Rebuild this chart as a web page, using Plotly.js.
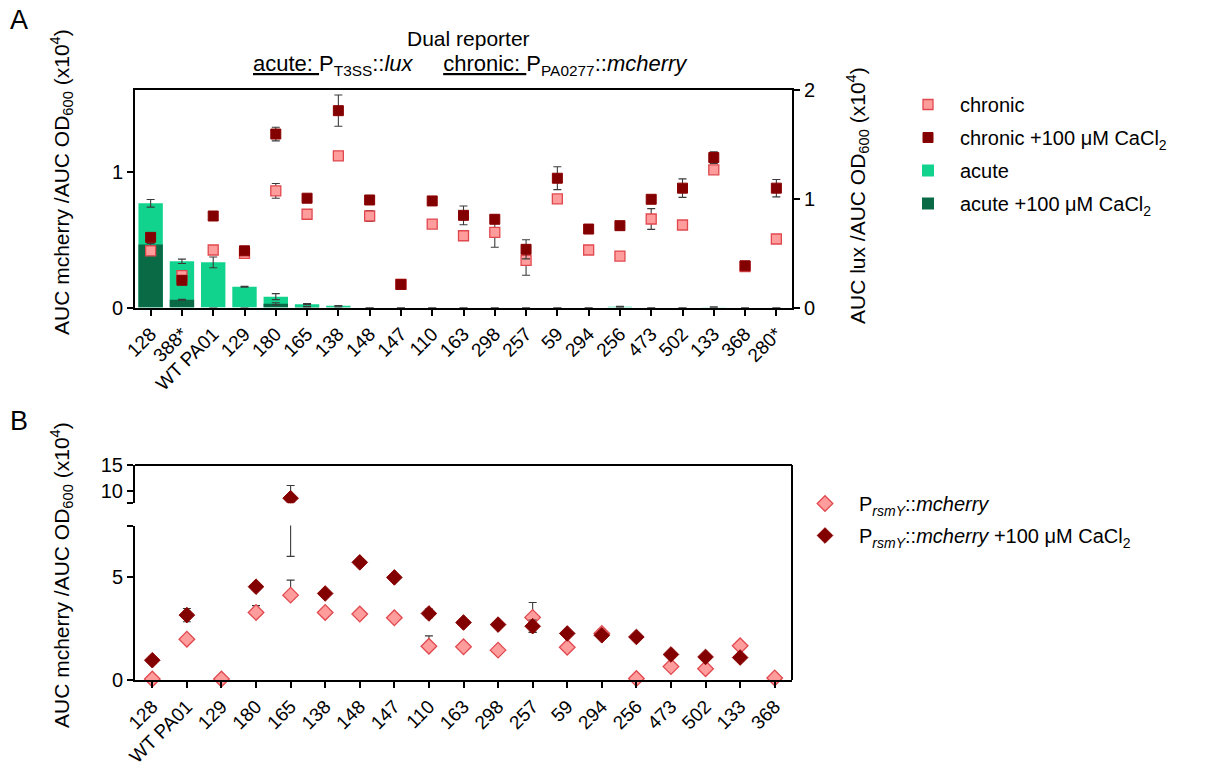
<!DOCTYPE html>
<html><head><meta charset="utf-8">
<script src="https://cdn.plot.ly/plotly-3.0.1.min.js"></script>
<style>html,body{margin:0;padding:0;background:#fff}#chart{width:1210px;height:774px}</style>
</head><body><div id="chart"></div>
<script>
// ---------- Panel A data ----------
const topCategories = ['128','388*','WT PA01','129','180','165','138','148','147','110','163','298','257','59','294','256','473','502','133','368','280*'];
const chronic      = [0.417,0.235,0.423,0.398,0.858,0.686,1.116,0.673,0.170,0.614,0.528,0.553,0.347,0.799,0.423,0.378,0.651,0.607,1.013,0.300,0.504];
const chronicErr   = [0.030,0.020,0.030,0.020,0.054,0.020,0.030,0.040,0.000,0.020,0.020,0.110,0.110,0.030,0.020,0.020,0.076,0.020,0.020,0.020,0.020];
const chronicCa    = [0.516,0.200,0.673,0.417,1.276,0.804,1.448,0.791,0.170,0.784,0.678,0.649,0.428,0.951,0.577,0.602,0.796,0.878,1.103,0.307,0.878];
const chronicCaErr = [0.020,0.030,0.030,0.020,0.050,0.020,0.115,0.020,0.010,0.020,0.069,0.020,0.070,0.084,0.020,0.020,0.020,0.068,0.043,0.020,0.064];
const acute        = [0.958,0.425,0.415,0.190,0.100,0.031,0.016,0,0,0,0,0,0,0,0,0.008,0,0,0.003,0,0];
const acuteErr     = [0.035,0.020,0.050,0.004,0.028,0.005,0.003,0,0,0,0,0,0,0,0,0.003,0,0,0.004,0,0];
const acuteCa      = [0.579,0.071,0.000,0.000,0.034,0.005,0.002,0,0,0,0,0,0,0,0,0,0,0,0,0,0];
const acuteCaErr   = [0.010,0.005,0,0,0.010,0.003,0,0,0,0,0,0,0,0,0,0,0,0,0,0,0];

// ---------- Panel B data ----------
const bottomCategories = ['128','WT PA01','129','180','165','138','148','147','110','163','298','257','59','294','256','473','502','133','368'];
const rsmY         = [0.05,1.98,0.05,3.28,4.12,3.28,3.20,3.02,1.64,1.61,1.45,3.04,1.59,2.26,0.07,0.65,0.55,1.66,0.10];
const rsmYErr      = [0.05,0.10,0.05,0.33,0.73,0.10,0.05,0.10,0.50,0.08,0.05,0.72,0.05,0.20,0.03,0.10,0.15,0.15,0.05];
const rsmYErrMinus = [0.05,0.10,0.05,0.00,0.00,0.10,0.05,0.10,0.00,0.08,0.05,0.72,0.05,0.20,0.03,0.10,0.15,0.15,0.05];
const rsmYCa       = [0.96,3.15,null,4.53,8.50,4.20,5.71,4.98,3.23,2.79,2.69,2.61,2.26,2.17,2.09,1.24,1.12,1.09,null];
const rsmYCaErr    = [0.05,0.32,null,0.12,2.50,0.12,0.15,0.12,0.21,0.08,0.12,0.30,0.05,0.05,0.05,0.10,0.15,0.15,null];
const axisBreak = 7.5;
const lowerTicks = [0,5,7.5], lowerTickText = ['0','5',''];
const upperTicks = [7.5,10,15], upperTickText = ['','10','15'];

const rsmYCaLow  = rsmYCa.map(v => (v !== null && v <= axisBreak) ? v : null);
const rsmYCaHigh = rsmYCa.map(v => (v !== null && v > axisBreak) ? v : null);

// ---------- styling ----------
const W = 1210, H = 774;
const px = x => x / W, py = y => 1 - y / H;
const FONT = 'Liberation Sans, Arial, sans-serif';
const pinkFill = '#FF9C9C', pinkLine = '#E0484E';
const darkRed = '#820000', darkRedLine = '#8B0000';
const lightGreen = '#12D38D', darkGreen = '#0A6A46';
const errStyle = (arr, minus) => {
  const e = {type:'data', array: arr, visible:true, color:'#3a3a3a', thickness:1.1, width:4};
  if (minus) { e.symmetric = false; e.arrayminus = minus; }
  return e;
};

const xDom = [px(135), px(792)];
const topDom = [py(307.5), py(90)];
const lowDom = [py(680), py(525.5)];
const upDom = [py(503.3), py(465)];

const data = [
  {type:'scatter', mode:'markers', name:'chronic', x:topCategories, y:chronic, xaxis:'x', yaxis:'y2',
   marker:{symbol:'square', size:10, color:pinkFill, line:{color:pinkLine, width:1.3}},
   error_y: errStyle(chronicErr), legend:'legend', legendgroup:'a1'},
  {type:'scatter', mode:'markers', name:'chronic +100 μM CaCl<sub>2</sub>', x:topCategories, y:chronicCa, xaxis:'x', yaxis:'y2',
   marker:{symbol:'square', size:10, color:darkRed, line:{color:darkRedLine, width:1}},
   error_y: errStyle(chronicCaErr), legend:'legend', legendgroup:'a2'},
  {type:'bar', name:'acute', x:topCategories, y:acute, xaxis:'x', yaxis:'y', width:0.78,
   marker:{color:lightGreen, line:{width:0}}, error_y: errStyle(acuteErr), legend:'legend', legendgroup:'a3'},
  {type:'bar', name:'acute +100 μM CaCl<sub>2</sub>', x:topCategories, y:acuteCa, xaxis:'x', yaxis:'y', width:0.78,
   marker:{color:darkGreen, line:{width:0}}, error_y: errStyle(acuteCaErr), legend:'legend', legendgroup:'a4'},

  {type:'scatter', mode:'markers', name:'P<sub><i>rsmY</i></sub>::<i>mcherry</i>', x:bottomCategories, y:rsmY, xaxis:'x2', yaxis:'y3',
   cliponaxis:false, marker:{symbol:'diamond', size:12, color:pinkFill, line:{color:pinkLine, width:1.3}},
   error_y: errStyle(rsmYErr, rsmYErrMinus), legend:'legend2', legendgroup:'b1'},
  {type:'scatter', mode:'markers', name:'P<sub><i>rsmY</i></sub>::<i>mcherry</i> +100 μM CaCl<sub>2</sub>', x:bottomCategories, y:rsmYCaLow, xaxis:'x2', yaxis:'y3',
   cliponaxis:false, marker:{symbol:'diamond', size:12, color:darkRed, line:{color:darkRedLine, width:1}},
   error_y: errStyle(rsmYCaErr), legend:'legend2', legendgroup:'b2'},
  {type:'scatter', mode:'markers', showlegend:false, hoverinfo:'skip', x:bottomCategories, y:rsmYCaHigh, xaxis:'x2', yaxis:'y5',
   cliponaxis:true, marker:{symbol:'diamond', size:12, color:'rgba(0,0,0,0)', line:{width:0}},
   error_y: errStyle(rsmYCaErr)},
  {type:'scatter', mode:'markers', showlegend:false, x:bottomCategories, y:rsmYCaHigh, xaxis:'x2', yaxis:'y4',
   cliponaxis:true, marker:{symbol:'diamond', size:12, color:darkRed, line:{color:darkRedLine, width:1}},
   error_y: errStyle(rsmYCaErr)}
];

const axLine = {showline:true, linecolor:'#000', linewidth:2, ticks:'outside', ticklen:6, tickwidth:2, tickcolor:'#000',
  showgrid:false, zeroline:false, tickfont:{size:20, color:'#000', family:FONT}};

const layout = {
  width:W, height:H, margin:{l:0, r:0, t:0, b:0},
  paper_bgcolor:'#fff', plot_bgcolor:'rgba(0,0,0,0)',
  font:{family:FONT, color:'#000'},
  barmode:'overlay', showlegend:true,
  xaxis: Object.assign({}, axLine, {domain:xDom, anchor:'y', type:'category', categoryorder:'array', categoryarray:topCategories,
    range:[-0.5, 20.5], tickangle:-45, mirror:true, tickfont:{size:19, color:'#000', family:FONT}}),
  yaxis: Object.assign({}, axLine, {domain:topDom, anchor:'x', side:'right', range:[0,2], tickvals:[0,1,2]}),
  yaxis2: Object.assign({}, axLine, {overlaying:'y', anchor:'x', side:'left', range:[0,1.6], tickvals:[0,1]}),
  xaxis2: Object.assign({}, axLine, {domain:xDom, anchor:'y3', type:'category', categoryorder:'array', categoryarray:bottomCategories,
    range:[-0.5, 18.5], tickangle:-45, tickfont:{size:19, color:'#000', family:FONT}}),
  yaxis3: Object.assign({}, axLine, {domain:lowDom, anchor:'x2', range:[0, axisBreak], tickvals:lowerTicks, ticktext:lowerTickText}),
  yaxis4: Object.assign({}, axLine, {domain:upDom, anchor:'x2', range:[axisBreak, 15], tickvals:upperTicks, ticktext:upperTickText}),
  yaxis5: {overlaying:'y3', anchor:'x2', range:[0, axisBreak], visible:false, showgrid:false, zeroline:false},
  legend: {x:px(896), y:py(85), xanchor:'left', yanchor:'top', font:{size:20, family:FONT, color:'#000'},
    tracegroupgap:4, bgcolor:'rgba(0,0,0,0)', itemwidth:54},
  legend2: {x:px(791), y:py(484), xanchor:'left', yanchor:'top', font:{size:20, family:FONT, color:'#000'},
    tracegroupgap:3, bgcolor:'rgba(0,0,0,0)', itemwidth:58},
  shapes: [
    {type:'line', xref:'paper', yref:'paper', x0:xDom[0], x1:xDom[1], y0:upDom[1], y1:upDom[1], line:{color:'#000', width:2}},
    {type:'line', xref:'paper', yref:'paper', x0:xDom[1], x1:xDom[1], y0:lowDom[0], y1:upDom[1], line:{color:'#000', width:2}}
  ],
  annotations: [
    {text:'A', x:px(19), y:py(20), xref:'paper', yref:'paper', showarrow:false, font:{size:27}, xanchor:'center', yanchor:'middle'},
    {text:'B', x:px(19), y:py(421), xref:'paper', yref:'paper', showarrow:false, font:{size:27}, xanchor:'center', yanchor:'middle'},
    {text:'Dual reporter', x:px(468), y:py(39), xref:'paper', yref:'paper', showarrow:false, font:{size:21}, xanchor:'center', yanchor:'middle'},
    {text:'<u>acute: </u>P<sub>T3SS</sub>::<i>lux</i>\u00A0\u00A0\u00A0\u00A0\u00A0<u>chronic: </u>P<sub>PA0277</sub>::<i>mcherry</i>',
     x:px(470), y:py(65), xref:'paper', yref:'paper', showarrow:false, font:{size:22}, xanchor:'center', yanchor:'middle'},
    {text:'AUC mcherry /AUC OD<sub>600</sub> (x10<sup>4</sup>)', x:px(61), y:py(182), xref:'paper', yref:'paper', showarrow:false,
     textangle:-90, font:{size:21}, xanchor:'center', yanchor:'middle'},
    {text:'AUC lux /AUC OD<sub>600</sub> (x10<sup>4</sup>)', x:px(858), y:py(196), xref:'paper', yref:'paper', showarrow:false,
     textangle:-90, font:{size:21}, xanchor:'center', yanchor:'middle'},
    {text:'AUC mcherry /AUC OD<sub>600</sub> (x10<sup>4</sup>)', x:px(61), y:py(575), xref:'paper', yref:'paper', showarrow:false,
     textangle:-90, font:{size:21}, xanchor:'center', yanchor:'middle'}
  ]
};

Plotly.newPlot('chart', data, layout, {displayModeBar:false, staticPlot:true});
</script></body></html>
